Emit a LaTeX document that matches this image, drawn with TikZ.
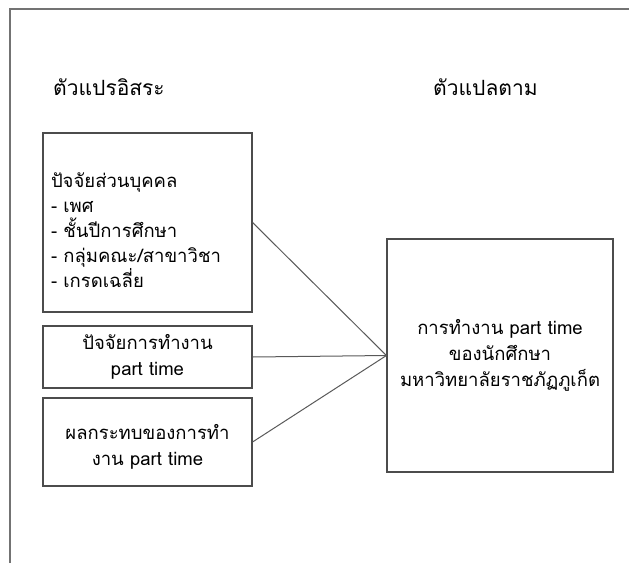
\documentclass[tikz,border=0pt]{standalone}
\usepackage{fontspec}
\newfontfamily\thaifont[Script=Thai]{Loma}
\begin{document}
\begin{tikzpicture}[x=1pt,y=-1pt,
  box/.style={draw=black!70,line width=1.1pt,inner sep=0pt,font=\thaifont\fontsize{18.5}{26}\selectfont},
  hdr/.style={font=\thaifont\fontsize{21}{24}\selectfont,anchor=west,inner sep=0pt},
  link/.style={draw=black!65,line width=1pt}]
\useasboundingbox (0,0) rectangle (629,563);
\draw[black!55,line width=1.4pt] (10,563) -- (10,9) -- (629,9);
\node[hdr] (h1) at (53,87) {ตัวแปรอิสระ};
\node[hdr] (h2) at (433,87) {ตัวแปลตาม};
\node[box,minimum width=209pt,minimum height=179pt,text width=193pt,align=left,
  font=\thaifont\fontsize{18.5}{25}\selectfont] (b1) at (147.5,222.5)
  {\rule{0pt}{30pt}ปัจจัยส่วนบุคคล\\- เพศ\\- ชั้นปีการศึกษา\\- กลุ่มคณะ/สาขาวิชา\\- เกรดเฉลี่ย};
\node[box,minimum width=209pt,minimum height=62pt,align=center] (b2) at (147.5,357)
  {ปัจจัยการทำงาน\\part time};
\node[box,minimum width=209pt,minimum height=88pt,align=center] (b3) at (147.5,442)
  {\rule{0pt}{24pt}ผลกระทบของการทำ\\งาน part time};
\node[box,minimum width=226pt,minimum height=233pt,align=center] (dv) at (500,355.5)
  {การทำงาน part time\\ของนักศึกษา\\มหาวิทยาลัยราชภัฏภูเก็ต};
\draw[link] (b1.east) -- (dv.west);
\draw[link] (b2.east) -- (dv.west);
\draw[link] (b3.east) -- (dv.west);
\end{tikzpicture}
\end{document}
